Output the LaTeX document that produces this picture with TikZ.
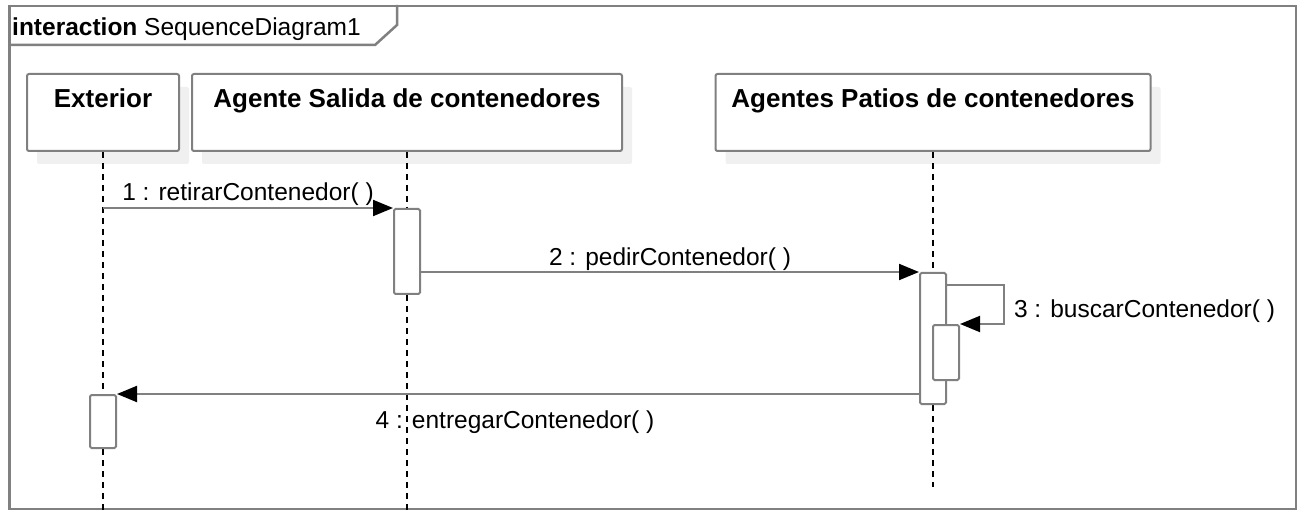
\documentclass[tikz,border=0pt]{standalone}
\usepackage{fontspec}
\setmainfont{Liberation Sans}
\usetikzlibrary{arrows.meta,calc,positioning,shadows}
\definecolor{linegray}{HTML}{808080}
\definecolor{shadowgray}{HTML}{F0F0F0}
\tikzset{%
	frame/.style    = {draw=linegray, line width=2.5pt, rectangle, inner sep=0pt}, % Outer frame
	lifehead/.style = {draw=linegray, line width=2pt, rectangle, rounded corners=2pt, fill=white,
	                   inner xsep=0pt, inner ysep=0pt, text height=34pt, text depth=43pt,
	                   font=\fontsize{26}{30}\selectfont\bfseries,
	                   drop shadow={shadow xshift=10pt, shadow yshift=-13pt, fill=shadowgray, opacity=1}}, % Lifeline head
	lifeline/.style = {draw=black, line width=1.8pt, dash pattern=on 6pt off 5pt},
	actbox/.style   = {draw=linegray, line width=2pt, rectangle, rounded corners=1.5pt, fill=white,
	                   minimum width=26pt, inner sep=0pt}, % Activation
	msg/.style      = {draw=linegray, line width=2pt, -{Triangle[length=20pt,width=16pt,color=black]}},
	msglabel/.style = {font=\fontsize{24.5}{28}\selectfont, inner sep=0pt, text=black},
}

\begin{document}
\begin{tikzpicture}[x=1pt,y=-1pt]
		\useasboundingbox (0,0) rectangle (1297,510);
		% frame and name tab
		\node [frame, minimum width=1287pt, minimum height=503pt, anchor=north west] (fr) at (8,5) {};
		\coordinate (tab) at (397,45);
		\draw [linegray, line width=2.5pt] (fr.north west |- tab) -- ++(367,0) -- ++(22,-20) -- (tab |- fr.north);
		\node [msglabel, anchor=base west] (title) at (12,36) {\textbf{interaction} SequenceDiagram1};
		
		% lifeline heads
		\node [lifehead, minimum width=152pt, anchor=north] (ext) at (103,73) {Exterior};
		\node [lifehead, minimum width=430pt, anchor=north] (sal) at (407,73) {Agente Salida de contenedores};
		\node [lifehead, minimum width=435pt, anchor=north] (pat) at (933,73) {Agentes Patios de contenedores};
		
		\draw [lifeline] (ext.south) -- (ext.south |- fr.south);
		\draw [lifeline] (sal.south) -- (sal.south |- fr.south);
		\draw [lifeline] (pat.south) -- ++(0,335);
		
		% activations
		\node [actbox, minimum height=85pt, anchor=north] (salact) at ([yshift=-56pt]sal.south) {};
		\node [actbox, minimum height=131pt, anchor=north] (patact) at ([yshift=-120pt]pat.south) {};
		\node [actbox, minimum height=55pt, anchor=north] (patself) at ([xshift=13pt,yshift=-52pt]patact.north) {};
		\node [actbox, minimum height=53pt, anchor=north] (extact) at ([yshift=-242pt]ext.south) {};
		
		% messages
		\draw [msg] (ext.south |- salact.north) -- node [msglabel, anchor=base, yshift=7pt] {1 : retirarContenedor( )} (salact.north west);
		\draw [msg] (salact.east |- patact.north) -- node [msglabel, anchor=base, yshift=6pt] {2 : pedirContenedor( )} (patact.north west);
		\draw [msg] ([yshift=-13pt]patact.north east) -- ++(57,0) |- node [msglabel, pos=0.25, anchor=base west, xshift=9pt, yshift=-12.5pt] {3 : buscarContenedor( )} (patself.north east);
		\draw [msg] (patact.west |- extact.north) -- node [msglabel, anchor=base, xshift=-3pt, yshift=-34pt] {4 : entregarContenedor( )} (extact.north east);
	\end{tikzpicture}
\end{document}
